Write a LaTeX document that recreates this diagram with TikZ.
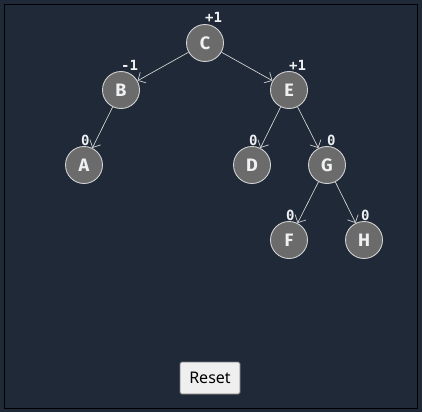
\documentclass[tikz,border=0pt]{standalone}
\usepackage{fontspec}
\setmainfont{Noto Sans}
\newfontfamily\nodefont{Fira Sans}
\newfontfamily\labfont{DejaVu Sans Mono}
\usetikzlibrary{arrows.meta}
\definecolor{bg}{HTML}{1F2937}
\definecolor{nodefill}{HTML}{6B6B6B}
\definecolor{nodeline}{HTML}{D0D0D0}
\definecolor{edgecol}{HTML}{D0D0D0}
\definecolor{labcol}{HTML}{EEF0F2}
\definecolor{btnfill}{HTML}{EFEFEF}
\definecolor{btnline}{HTML}{767676}
\tikzset{
  tnode/.style={circle, draw=nodeline, line width=0.9pt, fill=nodefill, minimum size=37pt, inner sep=0pt,
    text=labcol, font=\nodefont\bfseries\fontsize{18}{18}\selectfont},
  bal/.style={text=labcol, font=\labfont\bfseries\fontsize{14}{14}\selectfont, anchor=base west, inner sep=0pt},
  edge/.style={draw=edgecol, line width=0.7pt, -{Straight Barb[length=6pt,width=12pt,line width=0.7pt]}},
  btn/.style={draw=btnline, fill=btnfill, line width=0.8pt, rounded corners=1.5pt, minimum width=60pt, minimum height=32pt,
    inner sep=0pt, text=black, font=\fontsize{16}{16}\selectfont},
}
\begin{document}
\begin{tikzpicture}[x=1pt,y=-1pt]
\fill[bg] (0,0) rectangle (422,412);
\useasboundingbox (0,0) rectangle (422,412);
\draw[black, line width=1.5pt] (4.5,4.5) rectangle (417.5,408.5);
\node[tnode] (C) at (205,43) {C};
\node[tnode] (B) at (121,90) {B};
\node[tnode] (E) at (289,90) {E};
\node[tnode] (A) at (84,165) {A};
\node[tnode] (D) at (252,165) {D};
\node[tnode] (G) at (327,165) {G};
\node[tnode] (F) at (289,240) {F};
\node[tnode] (H) at (364,240) {H};
\draw[edge] (C) -- (B);
\draw[edge] (C) -- (E);
\draw[edge] (B) -- (A);
\draw[edge] (E) -- (D);
\draw[edge] (E) -- (G);
\draw[edge] (G) -- (F);
\draw[edge] (G) -- (H);
\node[bal] (lC) at (205,23) {+1};
\node[bal] (lB) at (121,70) {-1};
\node[bal] (lE) at (289,70) {+1};
\node[bal] (lA) at (81,145) {0};
\node[bal] (lD) at (249,145) {0};
\node[bal] (lG) at (327,145) {0};
\node[bal] (lF) at (286,220) {0};
\node[bal] (lH) at (361,220) {0};
\node[btn] (reset) at (210,378) {Reset};
\end{tikzpicture}
\end{document}
